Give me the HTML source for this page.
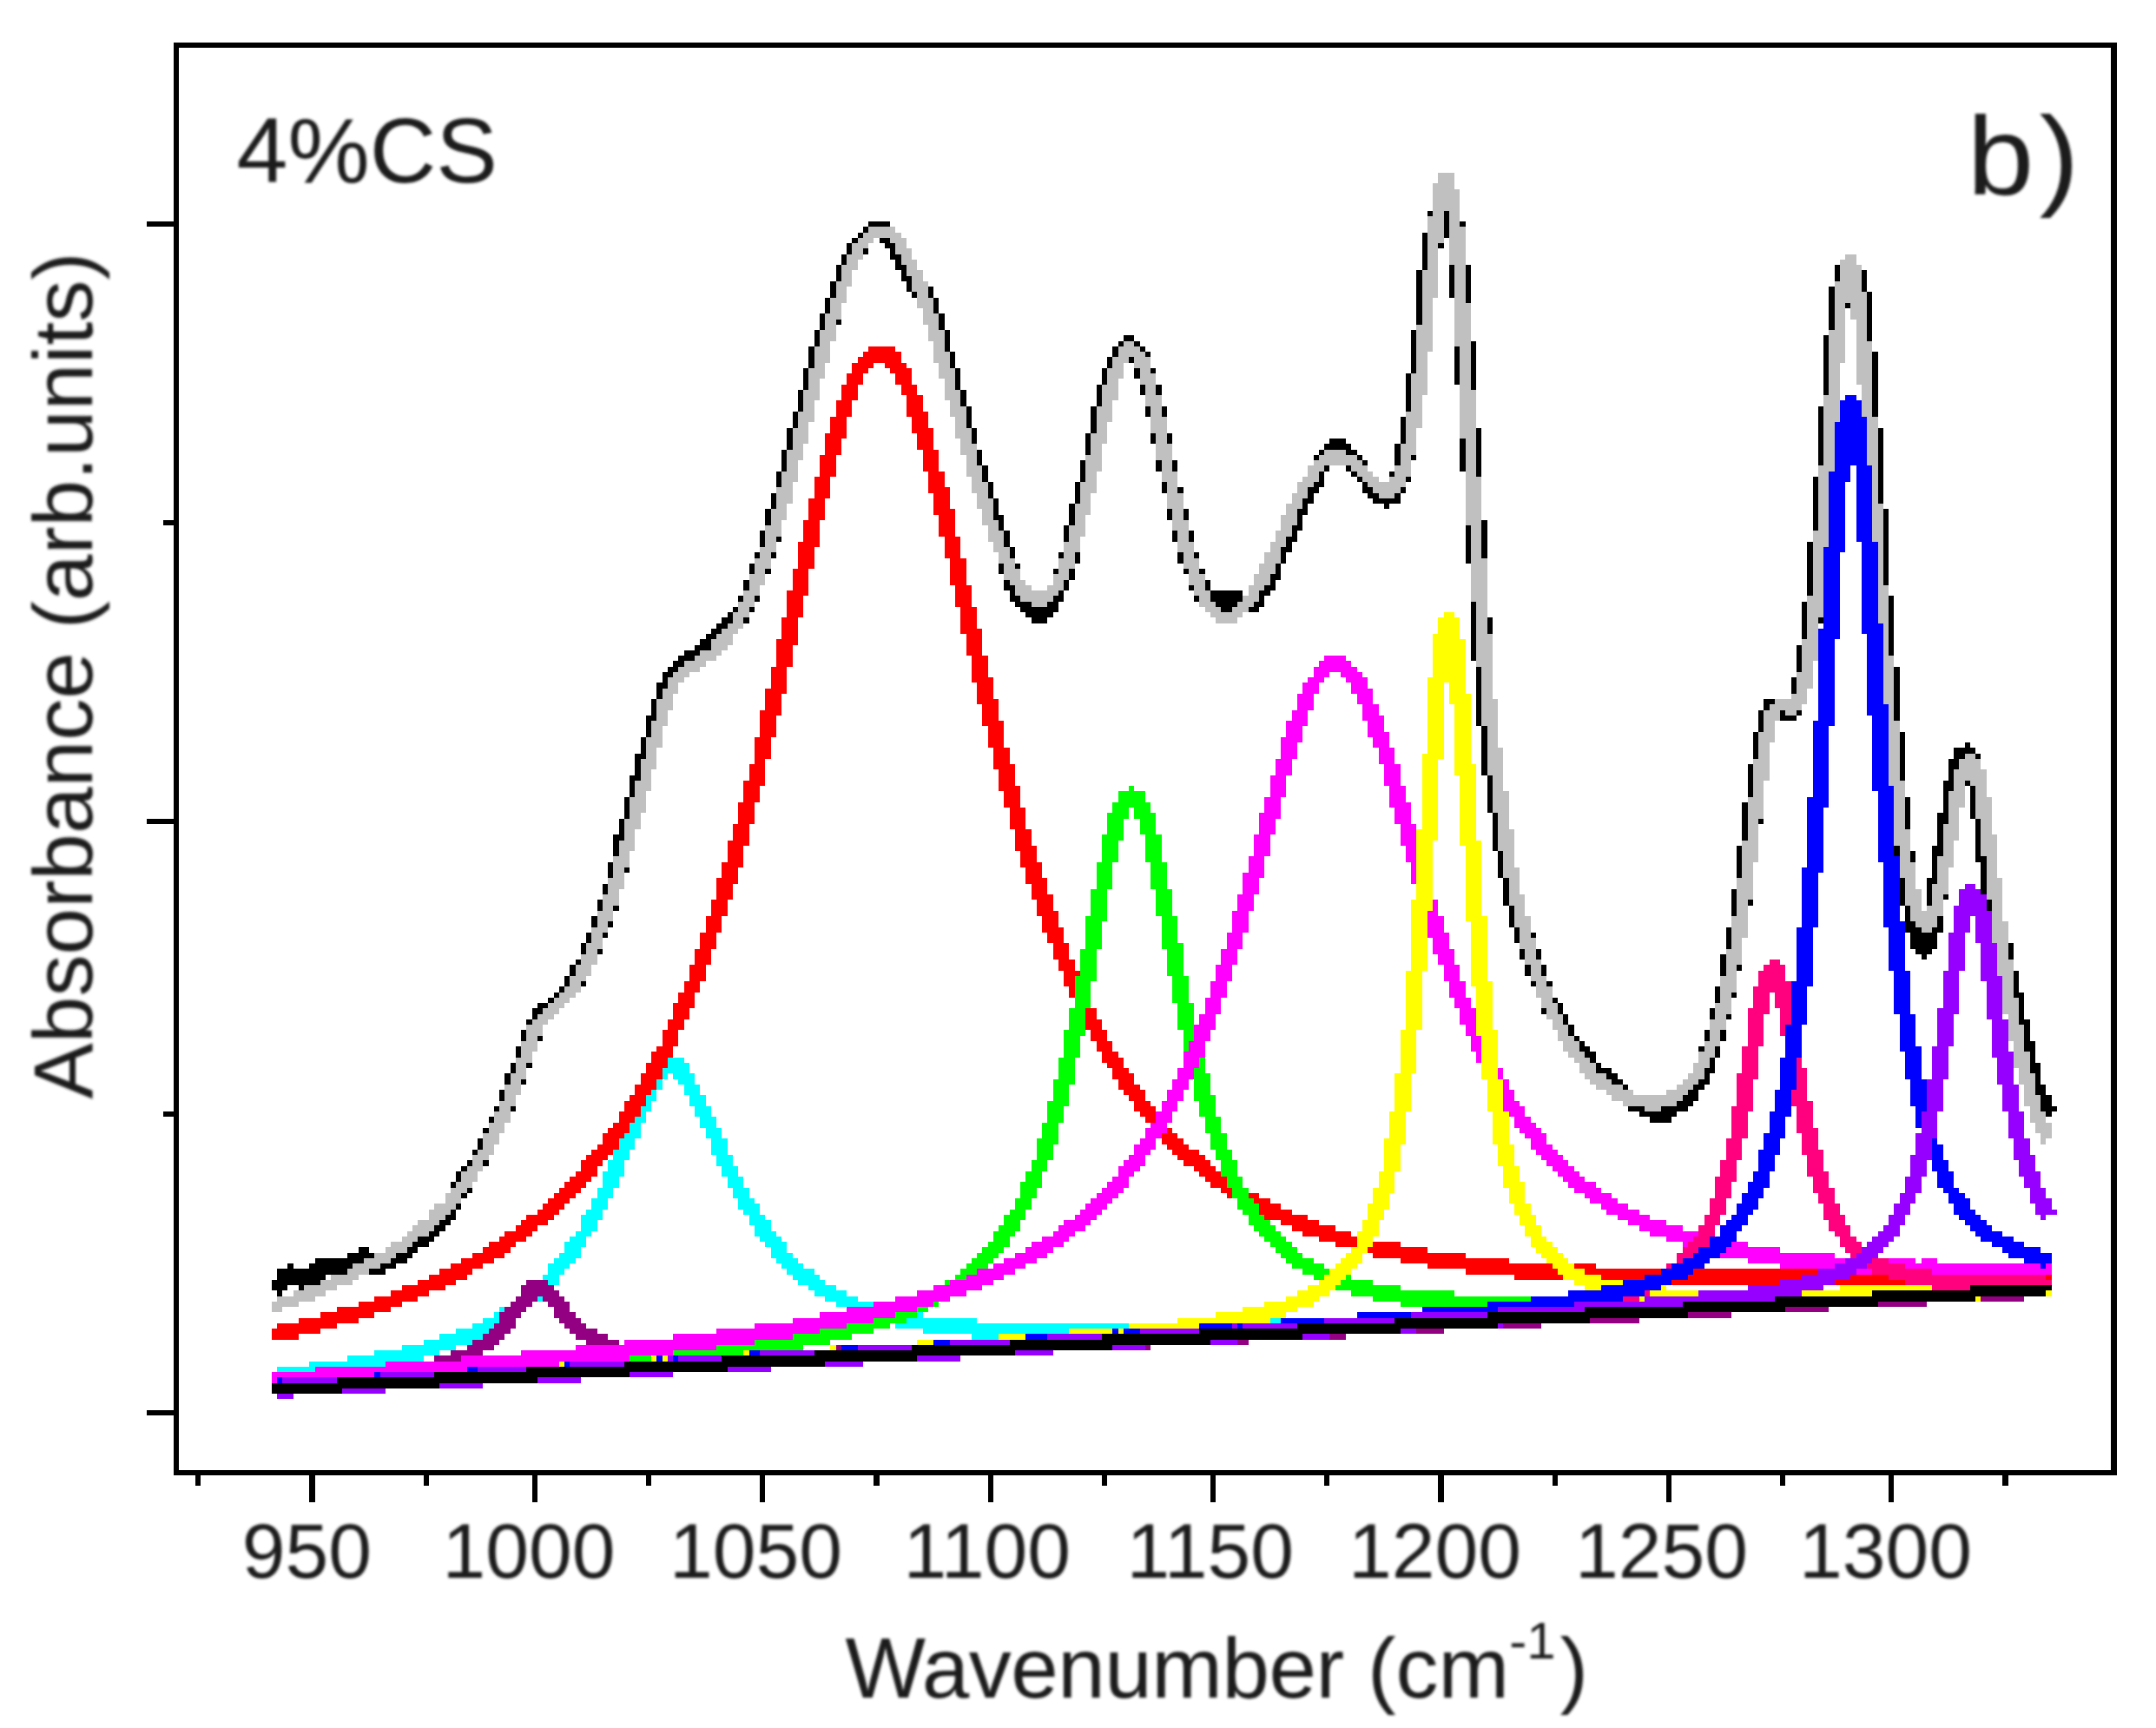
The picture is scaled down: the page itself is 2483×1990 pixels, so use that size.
<!DOCTYPE html>
<html><head><meta charset="utf-8"><title>spectrum</title>
<style>html,body{margin:0;padding:0;background:#fff}svg{display:block}</style></head>
<body>
<svg width="2483" height="1990" viewBox="0 0 2483 1990">
<rect width="2483" height="1990" fill="#fff"/>
<g transform="translate(0,-1.1) scale(6.25)" shape-rendering="crispEdges">
<path fill="#000000" d="M263 39h1v1h-1zM269 41h1v1h-1zM160 41h4v1h-4zM159 42h1v1h-1zM266 39h1v5h-1zM158 43h1v1h-1zM162 44h2v1h-2zM157 44h1v1h-1zM163 45h2v1h-2zM265 45h1v1h-1zM156 45h1v2h-1zM164 46h1v1h-1zM159 46h1v1h-1zM164 47h2v1h-2zM155 47h1v2h-1zM165 48h1v1h-1zM262 43h1v7h-1zM165 49h2v1h-2zM166 50h1v1h-1zM154 49h1v3h-1zM338 49h1v3h-1zM166 51h2v1h-2zM343 50h1v4h-1zM167 52h1v2h-1zM267 49h1v6h-1zM153 52h1v3h-1zM171 53h1v2h-1zM168 54h1v1h-1zM270 49h1v7h-1zM340 56h1v1h-1zM172 55h1v3h-1zM152 55h1v3h-1zM261 50h1v10h-1zM154 59h1v1h-1zM337 53h1v8h-1zM151 58h1v3h-1zM173 58h1v3h-1zM344 54h1v9h-1zM207 62h2v1h-2zM150 61h1v3h-1zM209 63h1v1h-1zM206 63h1v1h-1zM174 61h1v4h-1zM210 64h1v1h-1zM205 64h1v2h-1zM211 65h1v1h-1zM208 66h1v1h-1zM149 64h1v4h-1zM175 65h1v3h-1zM204 66h1v2h-1zM260 61h1v8h-1zM212 68h1v1h-1zM209 68h1v2h-1zM268 64h1v7h-1zM203 68h1v3h-1zM271 63h1v9h-1zM176 68h1v4h-1zM148 68h1v4h-1zM336 62h1v11h-1zM213 71h1v2h-1zM210 71h1v2h-1zM202 71h1v4h-1zM177 72h1v3h-1zM259 69h1v7h-1zM147 72h1v4h-1zM345 65h1v12h-1zM211 75h1v2h-1zM214 75h1v2h-1zM178 75h1v4h-1zM146 76h1v3h-1zM201 75h1v5h-1zM258 77h1v5h-1zM179 79h1v3h-1zM215 80h1v2h-1zM212 80h1v2h-1zM245 81h3v1h-3zM145 79h1v4h-1zM244 82h5v1h-5zM200 80h1v4h-1zM243 83h1v1h-1zM248 83h2v1h-2zM260 84h1v1h-1zM242 84h1v1h-1zM250 84h1v1h-1zM335 75h1v11h-1zM257 82h1v4h-1zM180 83h1v3h-1zM251 85h1v1h-1zM269 81h1v6h-1zM144 83h1v4h-1zM213 85h1v2h-1zM216 85h1v2h-1zM244 86h1v1h-1zM248 86h1v1h-1zM272 79h1v9h-1zM256 87h1v1h-1zM249 87h1v1h-1zM199 85h1v4h-1zM181 86h1v3h-1zM243 87h1v2h-1zM259 88h1v1h-1zM250 88h1v1h-1zM143 87h1v3h-1zM242 89h2v1h-2zM251 89h1v1h-1zM214 89h1v2h-1zM217 90h1v1h-1zM251 90h2v1h-2zM241 90h2v1h-2zM258 90h1v1h-1zM182 89h1v3h-1zM257 91h1v1h-1zM252 91h2v1h-2zM241 91h1v1h-1zM346 79h1v14h-1zM198 89h1v4h-1zM240 92h2v1h-2zM253 92h5v1h-5zM142 91h1v3h-1zM255 93h1v1h-1zM240 93h1v1h-1zM183 92h1v3h-1zM239 94h2v1h-2zM215 94h1v2h-1zM218 94h1v2h-1zM183 95h2v1h-2zM197 93h1v4h-1zM141 94h1v3h-1zM239 95h1v2h-1zM334 88h1v10h-1zM184 96h1v2h-1zM238 97h2v1h-2zM238 98h1v1h-1zM196 97h1v3h-1zM219 98h1v2h-1zM216 98h1v2h-1zM143 99h1v1h-1zM237 99h2v1h-2zM140 98h1v3h-1zM185 98h1v3h-1zM237 100h1v1h-1zM236 101h2v1h-2zM273 96h1v7h-1zM186 101h1v2h-1zM220 102h1v1h-1zM195 102h1v1h-1zM142 102h1v1h-1zM139 102h1v1h-1zM270 97h1v7h-1zM217 102h1v2h-1zM198 102h1v2h-1zM236 102h1v2h-1zM187 104h1v1h-1zM138 104h1v2h-1zM235 104h1v2h-1zM184 104h1v2h-1zM221 105h1v1h-1zM141 105h1v1h-1zM218 105h1v1h-1zM194 105h1v1h-1zM197 105h1v2h-1zM234 106h2v1h-2zM347 94h1v14h-1zM185 107h1v1h-1zM234 107h1v1h-1zM222 107h1v2h-1zM137 107h1v2h-1zM196 107h1v2h-1zM219 108h1v1h-1zM185 108h2v1h-2zM233 108h2v1h-2zM333 100h1v10h-1zM186 109h1v1h-1zM232 109h2v1h-2zM195 109h1v1h-1zM223 109h6v2h-6zM136 110h1v1h-1zM186 110h2v1h-2zM194 110h2v1h-2zM220 110h1v1h-1zM139 110h1v1h-1zM232 110h1v1h-1zM193 111h2v1h-2zM187 111h3v1h-3zM224 111h4v1h-4zM231 111h2v1h-2zM138 112h1v1h-1zM135 112h1v1h-1zM188 112h7v1h-7zM225 112h2v1h-2zM230 112h2v1h-2zM134 113h1v1h-1zM189 113h5v1h-5zM335 114h1v1h-1zM137 114h1v1h-1zM133 114h2v1h-2zM190 114h3v1h-3zM132 115h2v1h-2zM274 114h1v3h-1zM131 116h2v1h-2zM332 111h1v7h-1zM130 117h2v1h-2zM129 118h2v1h-2zM128 119h3v1h-3zM348 110h1v11h-1zM126 120h3v1h-3zM271 111h1v11h-1zM125 121h3v1h-3zM124 122h2v1h-2zM331 119h1v5h-1zM123 123h2v1h-2zM122 124h2v1h-2zM122 125h1v1h-1zM121 126h2v1h-2zM330 125h1v3h-1zM121 127h1v2h-1zM325 129h2v1h-2zM325 130h1v1h-1zM120 129h1v3h-1zM331 131h1v1h-1zM328 131h1v1h-1zM349 123h1v10h-1zM119 132h2v1h-2zM328 132h3v1h-3zM272 123h1v11h-1zM324 131h1v4h-1zM119 133h1v3h-1zM362 137h1v1h-1zM118 136h1v3h-1zM360 138h4v1h-4zM323 135h1v5h-1zM117 139h2v1h-2zM364 139h1v1h-1zM360 139h2v1h-2zM359 140h2v2h-2zM273 134h1v9h-1zM117 140h1v3h-1zM350 135h1v9h-1zM359 142h1v2h-1zM116 143h2v1h-2zM362 144h1v1h-1zM358 144h2v2h-2zM322 141h1v6h-1zM116 144h1v3h-1zM274 143h1v7h-1zM358 146h1v4h-1zM363 145h1v6h-1zM115 147h1v4h-1zM357 150h2v2h-2zM324 151h1v1h-1zM351 147h1v6h-1zM114 151h1v3h-1zM321 148h1v7h-1zM113 154h2v1h-2zM357 152h1v4h-1zM275 150h1v7h-1zM364 151h1v7h-1zM113 155h1v3h-1zM356 156h2v2h-2zM349 156h1v2h-1zM352 157h1v2h-1zM364 158h2v1h-2zM115 160h1v1h-1zM320 156h1v6h-1zM276 157h1v5h-1zM356 158h1v4h-1zM112 159h1v3h-1zM355 162h2v1h-2zM365 159h1v6h-1zM111 163h1v2h-1zM358 165h1v1h-1zM350 162h1v5h-1zM277 162h1v5h-1zM355 163h1v4h-1zM322 166h1v1h-1zM110 166h1v2h-1zM366 166h1v2h-1zM113 167h1v1h-1zM319 164h1v5h-1zM351 167h1v3h-1zM278 167h1v4h-1zM109 169h1v2h-1zM357 169h1v2h-1zM112 170h1v1h-1zM351 170h2v1h-2zM351 171h3v1h-3zM356 171h2v1h-2zM111 172h1v1h-1zM282 172h1v1h-1zM279 171h1v3h-1zM108 172h1v2h-1zM318 171h1v4h-1zM352 172h5v3h-5zM107 174h1v2h-1zM110 175h1v1h-1zM353 175h3v1h-3zM370 174h1v3h-1zM283 175h1v2h-1zM280 175h1v2h-1zM354 176h1v1h-1zM106 177h1v1h-1zM320 178h1v1h-1zM317 176h1v4h-1zM105 178h1v2h-1zM284 178h1v2h-1zM281 178h1v2h-1zM104 180h1v2h-1zM282 181h1v1h-1zM285 181h1v1h-1zM107 181h1v1h-1zM371 179h1v4h-1zM103 182h1v1h-1zM319 183h1v1h-1zM102 183h1v1h-1zM371 183h2v1h-2zM316 182h1v3h-1zM101 184h1v1h-1zM286 184h1v1h-1zM99 185h2v1h-2zM287 185h1v2h-1zM98 186h2v1h-2zM284 186h1v1h-1zM372 184h1v4h-1zM315 186h1v2h-1zM98 187h1v1h-1zM318 187h1v1h-1zM288 187h1v2h-1zM372 188h2v1h-2zM97 188h1v1h-1zM289 189h1v2h-1zM373 189h1v3h-1zM317 190h1v2h-1zM314 190h1v2h-1zM96 190h1v2h-1zM290 191h1v1h-1zM99 191h1v1h-1zM291 192h1v1h-1zM373 192h2v2h-2zM291 193h2v1h-2zM313 193h1v1h-1zM95 193h1v2h-1zM316 193h1v2h-1zM292 194h2v1h-2zM374 194h1v2h-1zM293 195h1v1h-1zM315 195h1v2h-1zM294 196h1v1h-1zM97 196h1v1h-1zM374 196h2v2h-2zM94 196h1v2h-1zM314 197h2v1h-2zM294 197h3v1h-3zM314 198h1v1h-1zM296 198h2v1h-2zM93 198h1v2h-1zM375 198h1v2h-1zM313 199h2v1h-2zM96 199h1v1h-1zM297 199h2v1h-2zM299 200h1v1h-1zM312 200h2v1h-2zM375 200h2v2h-2zM311 201h2v1h-2zM92 201h1v2h-1zM310 202h3v1h-3zM376 202h2v2h-2zM309 203h3v1h-3zM376 204h3v1h-3zM94 204h1v1h-1zM300 204h3v1h-3zM306 204h5v1h-5zM91 204h1v1h-1zM377 205h1v1h-1zM302 205h7v1h-7zM90 206h1v1h-1zM304 206h4v1h-4zM89 208h1v1h-1zM88 210h1v2h-1zM87 212h1v1h-1zM89 214h1v1h-1zM86 214h1v1h-1zM85 215h1v1h-1zM84 216h1v2h-1zM83 218h1v1h-1zM86 219h1v1h-1zM85 220h1v1h-1zM84 222h1v1h-1zM83 223h1v1h-1zM82 224h2v1h-2zM81 225h2v1h-2zM80 226h2v1h-2zM79 227h2v1h-2zM77 228h3v1h-3zM76 229h3v1h-3zM66 230h2v1h-2zM75 230h2v1h-2zM73 231h3v1h-3zM64 231h5v1h-5zM58 232h9v1h-9zM72 232h3v1h-3zM57 233h8v1h-8zM70 233h3v1h-3zM53 233h1v1h-1zM68 234h3v1h-3zM51 234h13v1h-13zM51 235h9v1h-9zM50 236h9v1h-9zM50 237h3v1h-3zM55 237h1v1h-1zM51 238h1v1h-1z"/>
<path fill="#c0c0c0" d="M265 32h3v2h-3zM264 34h4v1h-4zM264 35h5v4h-5zM264 39h2v1h-2zM267 39h2v3h-2zM160 42h5v1h-5zM159 43h7v1h-7zM263 40h3v5h-3zM158 44h3v1h-3zM164 44h3v1h-3zM157 45h3v1h-3zM165 45h2v1h-2zM165 46h3v1h-3zM157 46h2v1h-2zM166 47h2v1h-2zM156 47h3v1h-3zM340 47h2v1h-2zM267 42h3v7h-3zM339 48h3v1h-3zM156 48h2v1h-2zM166 48h3v1h-3zM263 45h2v5h-2zM155 49h3v1h-3zM167 49h2v1h-2zM167 50h3v1h-3zM339 49h4v3h-4zM155 50h2v2h-2zM168 51h2v1h-2zM154 52h3v1h-3zM168 52h3v2h-3zM338 52h5v2h-5zM262 50h3v5h-3zM154 53h2v2h-2zM169 54h2v1h-2zM268 49h2v7h-2zM338 54h6v2h-6zM153 55h3v1h-3zM169 55h3v2h-3zM153 56h2v2h-2zM170 57h2v1h-2zM341 56h3v3h-3zM152 58h3v1h-3zM262 55h2v5h-2zM170 58h3v2h-3zM338 56h2v5h-2zM152 59h2v2h-2zM171 60h2v1h-2zM342 59h2v4h-2zM171 61h3v2h-3zM151 61h3v2h-3zM268 56h3v8h-3zM207 63h2v1h-2zM151 63h2v1h-2zM261 60h3v5h-3zM172 63h2v2h-2zM206 64h4v1h-4zM206 65h5v1h-5zM337 61h3v6h-3zM150 64h3v3h-3zM172 65h3v2h-3zM205 66h3v1h-3zM209 66h3v2h-3zM150 67h2v1h-2zM173 67h2v1h-2zM205 67h2v1h-2zM261 65h2v4h-2zM210 68h2v1h-2zM204 68h3v2h-3zM173 68h3v2h-3zM149 68h3v2h-3zM342 63h3v8h-3zM210 69h3v2h-3zM204 70h2v1h-2zM269 64h2v8h-2zM149 70h2v2h-2zM174 70h2v2h-2zM337 67h2v6h-2zM260 69h3v4h-3zM211 71h2v2h-2zM203 71h3v3h-3zM174 72h3v2h-3zM148 72h3v2h-3zM211 73h3v2h-3zM175 74h2v1h-2zM203 74h2v1h-2zM260 73h2v3h-2zM148 74h2v2h-2zM343 71h2v6h-2zM175 75h3v2h-3zM212 75h2v2h-2zM336 73h3v5h-3zM202 75h3v3h-3zM147 76h3v2h-3zM259 76h3v3h-3zM176 77h2v2h-2zM147 78h2v1h-2zM212 77h3v3h-3zM202 78h2v2h-2zM269 72h3v9h-3zM176 79h3v2h-3zM259 79h2v3h-2zM146 79h3v3h-3zM213 80h2v2h-2zM201 80h3v2h-3zM177 81h2v1h-2zM146 82h2v1h-2zM201 82h2v2h-2zM258 82h3v2h-3zM177 82h3v2h-3zM244 83h4v1h-4zM213 82h3v3h-3zM145 83h3v2h-3zM243 84h7v1h-7zM344 77h2v9h-2zM336 78h2v8h-2zM258 84h2v2h-2zM178 84h2v2h-2zM242 85h9v1h-9zM200 84h3v3h-3zM214 85h2v2h-2zM145 85h2v2h-2zM249 86h3v1h-3zM241 86h3v1h-3zM335 86h3v1h-3zM270 81h2v7h-2zM178 86h3v2h-3zM257 86h3v2h-3zM250 87h3v1h-3zM241 87h2v1h-2zM214 87h3v2h-3zM200 87h2v2h-2zM144 87h3v2h-3zM256 88h3v1h-3zM240 88h3v1h-3zM251 88h3v1h-3zM179 88h2v1h-2zM252 89h7v1h-7zM239 89h3v1h-3zM144 89h2v1h-2zM199 89h3v2h-3zM179 89h3v2h-3zM215 89h2v2h-2zM239 90h2v1h-2zM253 90h5v1h-5zM238 91h3v1h-3zM254 91h3v1h-3zM180 91h2v1h-2zM345 86h1v7h-1zM143 90h3v3h-3zM199 91h2v2h-2zM238 92h2v1h-2zM215 91h3v3h-3zM180 92h3v2h-3zM143 93h2v1h-2zM237 93h3v1h-3zM198 93h3v2h-3zM237 94h2v1h-2zM142 94h3v2h-3zM216 94h2v2h-2zM181 94h2v2h-2zM270 88h3v9h-3zM198 95h2v2h-2zM236 95h3v2h-3zM142 96h2v1h-2zM181 96h3v1h-3zM335 87h2v11h-2zM216 96h3v2h-3zM182 97h2v1h-2zM236 97h2v1h-2zM197 97h3v2h-3zM141 97h3v2h-3zM235 98h3v1h-3zM345 93h2v7h-2zM182 98h3v2h-3zM217 98h2v2h-2zM197 99h2v1h-2zM235 99h2v1h-2zM334 98h3v3h-3zM141 99h2v2h-2zM234 100h3v1h-3zM183 100h2v1h-2zM196 100h3v2h-3zM217 100h3v2h-3zM183 101h3v1h-3zM234 101h2v1h-2zM140 101h3v1h-3zM271 97h2v6h-2zM218 102h2v1h-2zM184 102h2v1h-2zM140 102h2v1h-2zM196 102h2v1h-2zM233 102h3v2h-3zM184 103h3v1h-3zM139 103h3v2h-3zM218 103h3v2h-3zM195 103h3v2h-3zM185 104h2v1h-2zM232 104h3v2h-3zM195 105h2v1h-2zM139 105h2v1h-2zM219 105h2v1h-2zM185 105h3v2h-3zM194 106h3v1h-3zM346 100h1v8h-1zM138 106h3v2h-3zM219 106h3v2h-3zM231 106h3v2h-3zM194 107h2v1h-2zM186 107h3v1h-3zM187 108h3v1h-3zM220 108h2v1h-2zM193 108h3v1h-3zM230 108h3v1h-3zM138 108h2v1h-2zM334 101h2v9h-2zM187 109h8v1h-8zM137 109h3v1h-3zM220 109h3v1h-3zM230 109h2v1h-2zM271 103h3v8h-3zM137 110h2v1h-2zM188 110h6v1h-6zM229 110h3v1h-3zM221 110h2v1h-2zM136 111h3v1h-3zM190 111h3v1h-3zM228 111h3v1h-3zM221 111h3v1h-3zM222 112h3v1h-3zM136 112h2v1h-2zM227 112h3v1h-3zM333 110h3v4h-3zM223 113h6v1h-6zM135 113h3v1h-3zM346 108h2v7h-2zM135 114h2v1h-2zM224 114h4v1h-4zM134 115h3v1h-3zM272 111h2v6h-2zM133 116h3v1h-3zM333 114h2v4h-2zM132 117h3v1h-3zM131 118h4v1h-4zM131 119h3v1h-3zM347 115h1v6h-1zM129 120h4v1h-4zM332 118h3v4h-3zM128 121h4v1h-4zM272 117h3v6h-3zM126 122h4v1h-4zM332 122h2v2h-2zM125 123h4v1h-4zM124 124h3v1h-3zM123 125h3v1h-3zM331 124h3v3h-3zM123 126h2v1h-2zM122 127h3v1h-3zM331 127h2v1h-2zM273 123h2v6h-2zM330 128h3v1h-3zM122 128h2v1h-2zM347 121h2v9h-2zM327 129h6v1h-6zM121 129h3v2h-3zM326 130h6v1h-6zM329 131h2v1h-2zM348 130h1v3h-1zM121 131h2v2h-2zM325 131h3v2h-3zM273 129h3v5h-3zM120 133h3v1h-3zM325 133h2v2h-2zM120 134h2v2h-2zM324 135h3v2h-3zM274 134h2v4h-2zM119 136h3v2h-3zM324 137h2v3h-2zM119 138h2v2h-2zM362 139h2v1h-2zM361 140h4v2h-4zM118 140h3v2h-3zM274 138h3v5h-3zM348 133h2v11h-2zM323 140h3v4h-3zM118 142h2v2h-2zM360 142h6v2h-6zM348 144h3v1h-3zM363 144h3v1h-3zM275 143h2v3h-2zM117 144h3v2h-3zM360 144h2v2h-2zM323 144h2v3h-2zM364 145h2v2h-2zM117 146h2v1h-2zM359 146h3v3h-3zM275 146h3v4h-3zM116 147h3v3h-3zM322 147h3v4h-3zM364 147h3v4h-3zM116 150h2v1h-2zM359 149h2v3h-2zM349 145h2v8h-2zM276 150h2v3h-2zM115 151h3v2h-3zM365 151h2v3h-2zM322 151h2v4h-2zM358 152h3v3h-3zM115 153h2v2h-2zM349 153h3v3h-3zM276 153h3v4h-3zM114 155h3v2h-3zM365 154h3v4h-3zM358 155h2v3h-2zM114 157h2v1h-2zM321 155h3v4h-3zM350 156h2v3h-2zM277 157h2v3h-2zM113 158h3v2h-3zM357 158h3v2h-3zM366 158h2v4h-2zM321 159h2v3h-2zM350 159h3v3h-3zM113 160h2v2h-2zM277 160h3v2h-3zM357 160h2v3h-2zM351 162h2v2h-2zM112 162h3v2h-3zM278 162h2v3h-2zM356 163h3v2h-3zM112 164h2v1h-2zM320 162h3v4h-3zM366 162h3v4h-3zM351 164h3v3h-3zM278 165h3v2h-3zM356 165h2v2h-2zM111 165h3v2h-3zM352 167h2v1h-2zM111 167h2v1h-2zM355 167h3v1h-3zM320 166h2v3h-2zM279 167h2v2h-2zM352 168h6v1h-6zM367 166h2v4h-2zM110 168h3v2h-3zM352 169h5v1h-5zM279 169h3v2h-3zM353 170h4v1h-4zM110 170h2v1h-2zM109 171h3v1h-3zM354 171h2v1h-2zM319 169h3v4h-3zM280 171h2v2h-2zM367 170h3v4h-3zM109 172h2v2h-2zM280 173h3v2h-3zM319 173h2v2h-2zM108 174h3v1h-3zM108 175h2v1h-2zM368 174h2v3h-2zM281 175h2v2h-2zM318 175h3v3h-3zM107 176h3v2h-3zM281 177h3v1h-3zM368 177h3v3h-3zM106 178h3v2h-3zM282 178h2v2h-2zM318 178h2v2h-2zM282 180h3v1h-3zM105 180h3v1h-3zM105 181h2v1h-2zM283 181h2v1h-2zM317 180h3v3h-3zM104 182h3v1h-3zM369 180h2v4h-2zM283 182h3v2h-3zM103 183h3v1h-3zM317 183h2v2h-2zM102 184h3v1h-3zM284 184h2v1h-2zM101 185h3v1h-3zM284 185h3v1h-3zM369 184h3v3h-3zM316 185h3v2h-3zM100 186h3v1h-3zM285 186h2v1h-2zM99 187h3v1h-3zM316 187h2v1h-2zM285 187h3v1h-3zM370 187h2v2h-2zM286 188h2v1h-2zM98 188h3v1h-3zM315 188h3v2h-3zM286 189h3v1h-3zM97 189h3v2h-3zM287 190h2v1h-2zM370 189h3v3h-3zM315 190h2v2h-2zM97 191h2v1h-2zM287 191h3v1h-3zM314 192h3v1h-3zM288 192h3v2h-3zM96 192h3v2h-3zM371 192h2v2h-2zM314 193h2v1h-2zM289 194h3v1h-3zM313 194h3v1h-3zM96 194h2v1h-2zM313 195h2v1h-2zM95 195h3v1h-3zM290 195h3v1h-3zM371 194h3v3h-3zM312 196h3v1h-3zM95 196h2v2h-2zM291 196h3v2h-3zM372 197h2v1h-2zM312 197h2v1h-2zM292 198h4v1h-4zM311 198h3v1h-3zM94 198h3v1h-3zM372 198h3v2h-3zM310 199h3v1h-3zM293 199h4v1h-4zM94 199h2v1h-2zM294 200h5v1h-5zM309 200h3v1h-3zM93 200h3v2h-3zM373 200h2v2h-2zM307 201h4v1h-4zM296 201h5v1h-5zM297 202h13v1h-13zM93 202h2v1h-2zM373 202h3v2h-3zM92 203h3v1h-3zM299 203h10v1h-10zM374 204h2v1h-2zM92 204h2v1h-2zM303 204h3v1h-3zM91 205h3v2h-3zM374 205h3v2h-3zM375 207h3v2h-3zM90 207h3v2h-3zM376 209h2v1h-2zM89 209h3v2h-3zM376 210h1v1h-1zM89 211h2v1h-2zM88 212h3v1h-3zM87 213h3v1h-3zM87 214h2v1h-2zM86 215h3v1h-3zM85 216h3v2h-3zM84 218h3v1h-3zM83 219h3v1h-3zM82 220h3v2h-3zM80 222h4v1h-4zM79 223h4v1h-4zM79 224h3v1h-3zM77 225h4v1h-4zM76 226h4v1h-4zM75 227h4v1h-4zM74 228h3v1h-3zM72 229h4v1h-4zM71 230h4v1h-4zM69 231h4v1h-4zM67 232h5v1h-5zM65 233h5v1h-5zM64 234h4v1h-4zM61 235h5v1h-5zM59 236h6v1h-6zM56 237h6v1h-6zM54 238h6v1h-6zM51 239h7v1h-7zM50 240h5v1h-5zM50 241h2v1h-2z"/>
<path fill="#00ffff" d="M123 195h3v1h-3zM123 196h4v1h-4zM122 197h5v1h-5zM124 198h4v1h-4zM122 198h1v1h-1zM125 199h3v1h-3zM121 199h1v2h-1zM126 200h3v2h-3zM120 201h1v1h-1zM119 202h2v1h-2zM127 202h3v2h-3zM119 203h1v1h-1zM118 204h2v1h-2zM128 204h3v2h-3zM118 205h1v1h-1zM117 206h2v1h-2zM129 206h3v2h-3zM116 207h2v2h-2zM130 208h3v2h-3zM115 209h3v1h-3zM114 210h3v2h-3zM131 210h3v3h-3zM113 212h3v2h-3zM132 213h3v2h-3zM112 214h3v2h-3zM133 215h3v2h-3zM111 216h4v1h-4zM134 217h3v2h-3zM111 217h3v2h-3zM135 219h3v2h-3zM110 219h3v2h-3zM136 221h3v1h-3zM109 221h3v2h-3zM136 222h4v1h-4zM137 223h3v1h-3zM108 223h3v1h-3zM138 224h3v1h-3zM107 224h4v1h-4zM138 225h4v1h-4zM107 225h3v2h-3zM139 226h3v1h-3zM106 227h3v1h-3zM139 227h4v1h-4zM105 228h3v1h-3zM140 228h4v1h-4zM104 229h4v1h-4zM141 229h4v1h-4zM142 230h3v1h-3zM104 230h3v1h-3zM142 231h4v1h-4zM103 231h4v1h-4zM102 232h4v1h-4zM143 232h4v1h-4zM144 233h4v1h-4zM101 233h4v1h-4zM101 234h3v1h-3zM145 234h5v1h-5zM100 235h3v1h-3zM146 235h5v1h-5zM101 236h2v1h-2zM147 236h5v1h-5zM149 237h5v1h-5zM150 238h6v1h-6zM99 239h1v1h-1zM152 239h6v1h-6zM154 240h7v1h-7zM92 241h1v1h-1zM169 242h1v1h-1zM91 242h1v1h-1zM234 243h2v1h-2zM167 243h13v1h-13zM89 243h3v1h-3zM87 244h4v1h-4zM165 244h43v1h-43zM170 245h27v1h-27zM84 245h6v1h-6zM81 246h8v1h-8zM179 246h5v1h-5zM78 247h9v1h-9zM74 248h10v1h-10zM69 249h12v1h-12zM64 250h14v1h-14zM57 251h14v1h-14zM51 252h7v1h-7z"/>
<path fill="#940082" d="M97 236h4v1h-4zM96 237h6v1h-6zM96 238h7v1h-7zM100 239h4v1h-4zM95 239h4v1h-4zM365 239h8v1h-8zM346 240h9v1h-9zM101 240h4v1h-4zM94 240h4v1h-4zM102 241h3v1h-3zM93 241h4v1h-4zM329 241h8v1h-8zM311 242h8v1h-8zM102 242h4v1h-4zM92 242h4v1h-4zM293 243h9v1h-9zM92 243h3v1h-3zM103 243h4v1h-4zM91 244h4v1h-4zM277 244h7v1h-7zM104 244h4v1h-4zM105 245h5v1h-5zM261 245h5v1h-5zM90 245h4v1h-4zM89 246h4v1h-4zM245 246h3v1h-3zM106 246h6v1h-6zM87 247h5v1h-5zM228 247h2v1h-2zM108 247h6v1h-6zM154 248h1v1h-1zM86 248h5v1h-5zM211 248h1v1h-1zM83 249h6v1h-6zM80 250h5v1h-5z"/>
<path fill="#ff0000" d="M160 64h5v1h-5zM159 65h7v1h-7zM158 66h8v1h-8zM157 67h4v1h-4zM163 67h4v1h-4zM157 68h3v1h-3zM164 68h4v1h-4zM165 69h3v2h-3zM156 69h3v2h-3zM166 71h3v2h-3zM155 71h3v3h-3zM167 73h3v3h-3zM154 74h3v3h-3zM167 76h4v1h-4zM168 77h3v2h-3zM153 77h3v3h-3zM168 79h4v1h-4zM152 80h4v1h-4zM169 80h3v3h-3zM152 81h3v3h-3zM170 83h3v4h-3zM151 84h3v4h-3zM171 87h3v3h-3zM171 90h4v1h-4zM150 88h3v4h-3zM172 91h3v3h-3zM172 94h4v1h-4zM149 92h3v4h-3zM173 95h3v4h-3zM148 96h3v4h-3zM147 100h4v1h-4zM174 99h3v4h-3zM147 101h3v4h-3zM175 103h3v5h-3zM146 105h3v4h-3zM145 109h4v1h-4zM176 108h3v4h-3zM145 110h3v4h-3zM177 112h3v4h-3zM177 116h4v1h-4zM144 114h3v4h-3zM143 118h4v1h-4zM178 117h3v4h-3zM143 119h3v4h-3zM179 121h3v4h-3zM179 125h4v1h-4zM142 123h3v4h-3zM141 127h4v1h-4zM180 126h3v3h-3zM180 129h4v1h-4zM141 128h3v3h-3zM140 131h4v1h-4zM181 130h3v3h-3zM181 133h4v1h-4zM140 132h3v4h-3zM182 134h3v4h-3zM139 136h3v4h-3zM183 138h3v3h-3zM139 140h2v1h-2zM183 141h4v1h-4zM138 141h3v3h-3zM184 142h3v3h-3zM137 144h4v1h-4zM184 145h4v1h-4zM137 145h3v3h-3zM185 146h3v3h-3zM136 148h3v4h-3zM186 149h3v4h-3zM135 152h3v3h-3zM187 153h3v3h-3zM134 155h4v1h-4zM187 156h4v1h-4zM134 156h3v3h-3zM188 157h3v2h-3zM133 159h4v1h-4zM188 159h4v1h-4zM133 160h3v2h-3zM189 160h3v2h-3zM189 162h4v1h-4zM132 162h4v1h-4zM190 163h3v2h-3zM132 163h3v3h-3zM190 165h4v1h-4zM191 166h3v2h-3zM131 166h3v3h-3zM191 168h4v1h-4zM192 169h3v2h-3zM130 169h3v3h-3zM192 171h4v1h-4zM193 172h3v2h-3zM129 172h3v3h-3zM194 174h3v3h-3zM128 175h3v3h-3zM195 177h3v2h-3zM196 179h3v1h-3zM127 178h3v3h-3zM196 180h2v2h-2zM126 181h3v2h-3zM197 182h1v2h-1zM125 183h3v2h-3zM124 185h4v1h-4zM124 186h3v2h-3zM200 186h2v2h-2zM123 188h3v2h-3zM200 188h3v2h-3zM201 190h3v2h-3zM122 190h3v3h-3zM202 192h3v2h-3zM121 193h3v1h-3zM120 194h4v1h-4zM203 194h3v1h-3zM203 195h4v1h-4zM120 195h3v1h-3zM119 196h4v1h-4zM204 196h3v1h-3zM119 197h3v1h-3zM205 197h3v1h-3zM205 198h4v1h-4zM118 198h4v1h-4zM118 199h3v1h-3zM206 199h3v1h-3zM117 200h4v1h-4zM206 200h4v1h-4zM117 201h3v1h-3zM207 201h4v1h-4zM208 202h3v1h-3zM116 202h3v1h-3zM115 203h4v1h-4zM209 203h3v1h-3zM115 204h3v1h-3zM209 204h4v1h-4zM210 205h3v1h-3zM114 205h4v1h-4zM211 206h2v1h-2zM114 206h3v1h-3zM113 207h3v1h-3zM215 208h1v1h-1zM112 208h4v1h-4zM214 209h3v1h-3zM111 209h4v1h-4zM214 210h4v1h-4zM111 210h3v1h-3zM110 211h4v1h-4zM215 211h4v1h-4zM109 212h4v1h-4zM216 212h5v1h-5zM217 213h5v1h-5zM108 213h4v1h-4zM218 214h5v1h-5zM107 214h4v1h-4zM220 215h4v1h-4zM107 215h3v1h-3zM221 216h4v1h-4zM106 216h4v1h-4zM222 217h4v1h-4zM105 217h4v1h-4zM223 218h3v1h-3zM104 218h4v1h-4zM225 219h2v1h-2zM103 219h4v1h-4zM102 220h4v1h-4zM226 220h1v1h-1zM230 220h2v1h-2zM231 221h3v1h-3zM101 221h4v1h-4zM100 222h4v1h-4zM232 222h4v1h-4zM232 223h6v1h-6zM99 223h4v1h-4zM233 224h8v1h-8zM97 224h5v1h-5zM96 225h5v1h-5zM236 225h7v1h-7zM238 226h8v1h-8zM95 226h4v1h-4zM240 227h9v1h-9zM93 227h5v1h-5zM92 228h5v1h-5zM243 228h7v1h-7zM253 229h5v1h-5zM90 229h5v1h-5zM246 229h4v1h-4zM89 230h5v1h-5zM252 230h11v1h-11zM253 231h17v1h-17zM87 231h6v1h-6zM258 232h20v1h-20zM85 232h6v1h-6zM83 233h6v1h-6zM263 233h23v1h-23zM290 233h4v1h-4zM81 234h6v1h-6zM270 234h17v1h-17zM312 234h23v1h-23zM292 234h14v1h-14zM341 235h7v1h-7zM311 235h21v1h-21zM279 235h9v1h-9zM79 235h7v1h-7zM295 235h8v1h-8zM377 235h1v1h-1zM77 236h7v1h-7zM308 236h20v1h-20zM338 236h13v1h-13zM74 237h8v1h-8zM72 238h7v1h-7zM69 239h8v1h-8zM66 240h8v1h-8zM62 241h10v1h-10zM59 242h10v1h-10zM55 243h11v1h-11zM51 244h11v1h-11zM50 245h9v1h-9zM50 246h5v1h-5z"/>
<path fill="#00ff00" d="M208 145h1v1h-1zM206 146h5v2h-5zM205 148h7v1h-7zM205 149h3v1h-3zM209 149h3v1h-3zM209 150h4v1h-4zM204 150h4v1h-4zM210 151h3v3h-3zM204 151h3v3h-3zM203 154h4v1h-4zM211 154h3v5h-3zM203 155h3v4h-3zM212 159h3v5h-3zM202 159h3v5h-3zM201 164h3v5h-3zM213 164h3v5h-3zM200 169h4v1h-4zM214 169h3v5h-3zM200 170h3v5h-3zM214 174h4v1h-4zM199 175h3v5h-3zM215 175h3v5h-3zM198 180h4v1h-4zM216 180h3v5h-3zM198 181h3v5h-3zM217 185h3v5h-3zM197 186h3v4h-3zM196 190h4v1h-4zM218 190h2v2h-2zM218 192h1v2h-1zM196 191h3v4h-3zM221 195h1v2h-1zM220 197h2v1h-2zM195 195h3v4h-3zM194 199h4v1h-4zM220 198h3v4h-3zM194 200h3v3h-3zM220 202h4v1h-4zM193 203h4v1h-4zM221 203h3v3h-3zM193 204h3v3h-3zM222 206h3v3h-3zM192 207h3v3h-3zM191 210h4v1h-4zM223 209h3v3h-3zM191 211h3v3h-3zM224 212h3v2h-3zM190 214h3v2h-3zM225 214h3v3h-3zM189 216h3v2h-3zM226 217h3v2h-3zM188 218h4v1h-4zM188 219h3v2h-3zM227 219h3v2h-3zM228 221h3v1h-3zM187 221h3v2h-3zM228 222h4v1h-4zM229 223h3v1h-3zM186 223h3v1h-3zM230 224h3v1h-3zM185 224h4v1h-4zM230 225h4v1h-4zM185 225h3v1h-3zM184 226h4v1h-4zM231 226h4v1h-4zM232 227h4v1h-4zM183 227h4v1h-4zM183 228h3v1h-3zM233 228h4v1h-4zM234 229h4v1h-4zM182 229h4v1h-4zM181 230h4v1h-4zM235 230h4v1h-4zM236 231h4v1h-4zM180 231h4v1h-4zM237 232h5v1h-5zM179 232h4v1h-4zM178 233h4v1h-4zM238 233h6v1h-6zM177 234h3v1h-3zM240 234h5v1h-5zM242 235h2v1h-2zM248 235h1v1h-1zM176 235h2v1h-2zM247 236h6v1h-6zM174 236h1v1h-1zM246 237h12v1h-12zM249 238h19v1h-19zM253 239h29v1h-29zM258 240h16v1h-16zM172 240h1v1h-1zM169 241h2v1h-2zM165 242h4v1h-4zM161 243h6v1h-6zM156 244h8v1h-8zM151 245h10v1h-10zM146 246h11v1h-11zM139 247h14v1h-14zM132 248h16v1h-16zM124 249h13v1h-13zM116 250h4v1h-4z"/>
<path fill="#ff00ff" d="M244 121h4v1h-4zM243 122h6v1h-6zM242 123h8v1h-8zM242 124h3v1h-3zM247 124h4v1h-4zM241 125h3v1h-3zM248 125h4v1h-4zM249 126h3v1h-3zM240 126h3v2h-3zM249 127h4v1h-4zM250 128h3v2h-3zM239 128h3v3h-3zM251 130h3v2h-3zM238 131h3v2h-3zM251 132h4v1h-4zM237 133h4v1h-4zM252 133h3v2h-3zM237 134h3v2h-3zM252 135h4v1h-4zM236 136h4v1h-4zM253 136h3v2h-3zM236 137h3v3h-3zM254 138h3v3h-3zM235 140h3v3h-3zM255 141h3v4h-3zM234 143h3v4h-3zM256 145h3v3h-3zM256 148h4v1h-4zM233 147h3v3h-3zM232 150h4v1h-4zM257 149h3v3h-3zM232 151h3v3h-3zM258 152h3v4h-3zM231 154h3v4h-3zM259 156h2v3h-2zM230 158h3v3h-3zM229 161h4v1h-4zM260 159h1v4h-1zM229 162h3v3h-3zM228 165h3v3h-3zM264 166h1v2h-1zM263 168h2v1h-2zM227 168h3v4h-3zM263 169h3v3h-3zM263 172h4v1h-4zM226 172h3v3h-3zM264 173h3v2h-3zM264 175h4v1h-4zM225 175h3v3h-3zM265 176h3v2h-3zM266 178h3v3h-3zM224 178h3v3h-3zM223 181h3v3h-3zM267 181h3v3h-3zM268 184h3v2h-3zM222 184h3v3h-3zM269 186h3v3h-3zM221 187h3v2h-3zM220 189h4v1h-4zM270 189h2v2h-2zM220 190h3v2h-3zM271 191h2v3h-2zM219 192h3v2h-3zM218 194h4v1h-4zM272 194h1v2h-1zM218 195h3v2h-3zM276 197h1v2h-1zM217 197h3v2h-3zM277 199h1v2h-1zM216 199h3v2h-3zM277 201h2v2h-2zM215 201h3v2h-3zM277 203h3v1h-3zM214 203h3v2h-3zM277 204h4v1h-4zM278 205h3v1h-3zM213 205h3v2h-3zM279 206h3v1h-3zM212 207h3v1h-3zM279 207h4v1h-4zM280 208h4v1h-4zM211 208h4v1h-4zM211 209h3v1h-3zM281 209h4v1h-4zM210 210h3v1h-3zM282 210h3v1h-3zM282 211h4v1h-4zM209 211h4v1h-4zM283 212h4v1h-4zM209 212h3v1h-3zM208 213h3v1h-3zM284 213h4v1h-4zM285 214h4v1h-4zM207 214h4v1h-4zM286 215h4v1h-4zM206 215h4v1h-4zM287 216h4v1h-4zM206 216h3v1h-3zM205 217h3v1h-3zM288 217h4v1h-4zM289 218h5v1h-5zM204 218h4v1h-4zM290 219h5v1h-5zM203 219h4v1h-4zM292 220h5v1h-5zM202 220h4v1h-4zM201 221h4v1h-4zM293 221h5v1h-5zM295 222h5v1h-5zM200 222h4v1h-4zM199 223h4v1h-4zM296 223h6v1h-6zM298 224h6v1h-6zM198 224h4v1h-4zM196 225h5v1h-5zM300 225h7v1h-7zM302 226h8v1h-8zM195 226h5v1h-5zM194 227h4v1h-4zM304 227h9v1h-9zM307 228h5v1h-5zM192 228h5v1h-5zM310 229h1v1h-1zM190 229h6v1h-6zM319 229h3v1h-3zM318 230h10v1h-10zM189 230h5v1h-5zM187 231h6v1h-6zM317 231h21v1h-21zM354 232h3v1h-3zM348 232h5v1h-5zM185 232h6v1h-6zM322 232h18v1h-18zM351 233h25v1h-25zM377 233h1v1h-1zM328 233h10v1h-10zM183 233h6v1h-6zM356 234h22v1h-22zM342 234h3v1h-3zM180 234h7v1h-7zM178 235h7v1h-7zM175 236h8v1h-8zM172 237h9v1h-9zM169 238h9v1h-9zM165 239h10v1h-10zM161 240h11v1h-11zM156 241h13v1h-13zM151 242h14v1h-14zM146 243h15v1h-15zM139 244h17v1h-17zM132 245h19v1h-19zM124 246h22v1h-22zM115 247h24v1h-24zM106 248h26v1h-26zM96 249h28v1h-28zM85 250h31v1h-31zM71 251h32v1h-32zM58 252h28v1h-28zM50 253h19v1h-19zM50 254h1v1h-1z"/>
<path fill="#ffff00" d="M266 113h2v1h-2zM265 114h4v3h-4zM264 117h5v1h-5zM264 118h6v7h-6zM263 125h7v1h-7zM267 126h3v2h-3zM267 128h4v2h-4zM263 126h3v13h-3zM262 139h4v1h-4zM268 130h3v11h-3zM268 141h4v2h-4zM262 140h3v13h-3zM269 143h3v12h-3zM261 153h4v2h-4zM269 155h4v1h-4zM261 155h3v11h-3zM260 166h4v2h-4zM270 156h3v13h-3zM270 169h4v1h-4zM260 168h3v11h-3zM271 170h3v11h-3zM271 181h4v1h-4zM259 179h3v11h-3zM272 182h3v8h-3zM272 190h4v1h-4zM258 190h3v8h-3zM273 191h3v8h-3zM257 198h3v7h-3zM274 199h3v6h-3zM256 205h3v5h-3zM275 205h3v6h-3zM255 210h4v1h-4zM276 211h3v4h-3zM255 211h3v5h-3zM277 215h3v3h-3zM254 216h3v3h-3zM277 218h4v1h-4zM253 219h4v1h-4zM278 219h3v3h-3zM253 220h3v2h-3zM252 222h4v1h-4zM279 222h3v2h-3zM252 223h3v2h-3zM280 224h3v2h-3zM251 225h3v2h-3zM281 226h3v2h-3zM250 227h4v1h-4zM282 228h3v1h-3zM250 228h3v2h-3zM282 229h4v1h-4zM283 230h4v1h-4zM249 230h3v1h-3zM284 231h4v1h-4zM248 231h3v1h-3zM285 232h4v1h-4zM247 232h4v1h-4zM286 233h4v1h-4zM246 233h4v1h-4zM245 234h4v1h-4zM287 234h5v1h-5zM288 235h7v1h-7zM244 235h4v1h-4zM243 236h4v1h-4zM290 236h9v1h-9zM306 237h1v1h-1zM241 237h5v1h-5zM292 237h3v1h-3zM339 237h17v1h-17zM239 238h6v1h-6zM304 238h9v1h-9zM377 238h1v1h-1zM332 238h13v1h-13zM237 239h6v1h-6zM364 239h1v1h-1zM302 239h1v1h-1zM233 240h9v1h-9zM229 241h10v1h-10zM224 242h13v1h-13zM217 243h17v1h-17zM208 244h13v1h-13zM206 245h1v1h-1zM197 245h8v1h-8zM184 246h5v1h-5zM169 247h3v1h-3zM153 248h1v1h-1zM137 249h1v1h-1zM122 250h1v1h-1zM120 250h1v1h-1zM103 251h1v1h-1z"/>
<path fill="#ff007f" d="M326 177h2v1h-2zM325 178h4v1h-4zM324 179h5v2h-5zM324 181h6v1h-6zM323 182h7v1h-7zM323 183h3v3h-3zM327 183h3v3h-3zM322 186h4v1h-4zM328 186h2v3h-2zM328 189h1v2h-1zM322 187h3v6h-3zM331 195h1v2h-1zM321 193h3v5h-3zM320 198h4v1h-4zM331 197h2v4h-2zM330 201h3v2h-3zM320 199h3v5h-3zM330 203h4v1h-4zM319 204h4v1h-4zM331 204h3v4h-3zM331 208h4v1h-4zM319 205h3v5h-3zM332 209h3v3h-3zM332 212h4v1h-4zM318 210h3v4h-3zM333 213h3v3h-3zM317 214h3v3h-3zM333 216h4v1h-4zM316 217h4v1h-4zM334 217h3v2h-3zM334 219h4v1h-4zM316 218h3v3h-3zM335 220h3v2h-3zM315 221h3v3h-3zM336 222h3v2h-3zM336 224h4v1h-4zM314 224h3v2h-3zM337 225h3v1h-3zM337 226h4v1h-4zM313 226h3v2h-3zM338 227h3v1h-3zM339 228h3v1h-3zM312 228h3v1h-3zM311 229h4v1h-4zM339 229h4v1h-4zM340 230h3v1h-3zM310 230h3v1h-3zM309 231h3v1h-3zM341 231h1v1h-1zM345 232h3v1h-3zM309 232h1v1h-1zM307 233h1v1h-1zM344 233h7v1h-7zM345 234h11v1h-11zM348 235h29v1h-29zM351 236h27v1h-27zM356 237h7v1h-7zM303 238h1v1h-1zM299 239h3v1h-3z"/>
<path fill="#0000ff" d="M340 73h2v1h-2zM339 74h4v3h-4zM339 77h5v1h-5zM338 78h6v8h-6zM338 86h3v1h-3zM337 87h4v2h-4zM342 86h3v14h-3zM337 89h3v12h-3zM336 101h4v1h-4zM343 100h3v15h-3zM336 102h3v14h-3zM343 115h4v2h-4zM335 116h4v2h-4zM344 117h3v13h-3zM344 130h4v2h-4zM335 118h3v15h-3zM334 133h4v1h-4zM345 132h3v13h-3zM345 145h4v1h-4zM334 134h3v13h-3zM333 147h4v2h-4zM346 146h3v12h-3zM346 158h4v1h-4zM333 149h3v11h-3zM332 160h4v1h-4zM347 159h3v11h-3zM332 161h3v10h-3zM347 170h4v1h-4zM348 171h3v8h-3zM331 171h3v10h-3zM330 181h4v1h-4zM349 179h3v8h-3zM330 182h3v7h-3zM350 187h3v6h-3zM350 193h4v1h-4zM329 189h3v6h-3zM351 194h3v5h-3zM328 195h3v6h-3zM352 199h3v5h-3zM327 201h3v4h-3zM353 204h2v1h-2zM326 205h4v1h-4zM353 205h1v3h-1zM326 206h3v3h-3zM325 209h4v1h-4zM356 210h1v1h-1zM325 210h3v2h-3zM324 212h4v1h-4zM356 211h2v3h-2zM324 213h3v3h-3zM356 214h3v2h-3zM323 216h3v2h-3zM357 216h3v3h-3zM322 218h4v1h-4zM322 219h3v1h-3zM358 219h3v1h-3zM359 220h3v1h-3zM321 220h4v1h-4zM321 221h3v1h-3zM359 221h4v1h-4zM320 222h4v1h-4zM360 222h3v1h-3zM320 223h3v1h-3zM360 223h4v1h-4zM361 224h4v1h-4zM319 224h3v1h-3zM318 225h4v1h-4zM362 225h4v1h-4zM317 226h4v1h-4zM363 226h4v1h-4zM364 227h5v1h-5zM317 227h3v1h-3zM365 228h6v1h-6zM315 228h5v1h-5zM367 229h6v1h-6zM315 229h4v1h-4zM369 230h7v1h-7zM313 230h5v1h-5zM312 231h5v1h-5zM370 231h8v1h-8zM373 232h5v1h-5zM310 232h5v1h-5zM308 233h6v1h-6zM376 233h1v1h-1zM306 234h6v1h-6zM303 235h8v1h-8zM299 236h9v1h-9zM295 237h11v1h-11zM289 238h14v1h-14zM282 239h17v1h-17zM274 240h16v1h-16zM262 241h14v1h-14zM250 242h10v1h-10zM236 243h8v1h-8zM228 244h1v1h-1zM221 244h6v1h-6zM205 245h1v1h-1zM207 245h3v1h-3zM189 246h4v1h-4zM172 247h3v1h-3zM155 248h3v1h-3zM138 249h2v1h-2zM121 250h1v1h-1zM124 250h1v1h-1zM104 251h1v1h-1zM86 252h2v1h-2zM69 253h1v1h-1zM51 254h1v1h-1z"/>
<path fill="#9600ff" d="M362 163h2v1h-2zM361 164h4v1h-4zM361 165h5v2h-5zM360 167h6v1h-6zM360 168h7v1h-7zM360 169h3v3h-3zM364 169h3v5h-3zM359 172h3v7h-3zM365 174h3v6h-3zM365 180h4v1h-4zM358 179h3v7h-3zM357 186h4v1h-4zM366 181h3v7h-3zM357 187h3v6h-3zM367 188h3v6h-3zM367 194h4v1h-4zM356 193h3v6h-3zM368 195h3v5h-3zM355 199h3v6h-3zM369 200h3v5h-3zM354 205h3v4h-3zM370 205h3v5h-3zM353 209h4v1h-4zM353 210h3v3h-3zM371 210h3v3h-3zM371 213h4v1h-4zM352 213h4v1h-4zM372 214h3v2h-3zM352 214h3v3h-3zM372 216h4v1h-4zM373 217h3v2h-3zM351 217h3v3h-3zM374 219h3v2h-3zM350 220h3v2h-3zM374 221h4v1h-4zM375 222h3v1h-3zM349 222h3v2h-3zM375 223h4v1h-4zM376 224h1v1h-1zM348 224h3v2h-3zM347 226h3v1h-3zM346 227h4v1h-4zM345 228h4v1h-4zM344 229h4v1h-4zM343 230h4v1h-4zM342 231h4v1h-4zM340 232h5v1h-5zM338 233h6v1h-6zM335 234h7v1h-7zM332 235h9v1h-9zM328 236h10v1h-10zM322 237h14v1h-14zM313 238h19v1h-19zM303 239h24v1h-24zM290 240h20v1h-20zM276 241h16v1h-16zM260 242h14v1h-14zM244 243h13v1h-13zM229 244h10v1h-10zM276 244h1v1h-1zM227 244h1v1h-1zM258 245h3v1h-3zM210 245h11v1h-11zM240 246h5v1h-5zM193 246h10v1h-10zM223 247h5v1h-5zM175 247h11v1h-11zM205 248h6v1h-6zM158 248h10v1h-10zM140 249h10v1h-10zM187 249h7v1h-7zM123 250h1v1h-1zM169 250h8v1h-8zM125 250h8v1h-8zM105 251h10v1h-10zM152 251h7v1h-7zM88 252h9v1h-9zM134 252h8v1h-8zM116 253h8v1h-8zM70 253h10v1h-10zM99 254h8v1h-8zM52 254h10v1h-10zM81 255h8v1h-8zM63 256h8v1h-8zM51 257h3v1h-3z"/>
<path fill="#000000" d="M363 237h15v1h-15zM345 238h32v1h-32zM327 239h37v1h-37zM310 240h36v1h-36zM292 241h37v1h-37zM274 242h37v1h-37zM257 243h36v1h-36zM239 244h37v1h-37zM221 245h37v1h-37zM203 246h37v1h-37zM186 247h37v1h-37zM168 248h37v1h-37zM150 249h37v1h-37zM133 250h36v1h-36zM115 251h37v1h-37zM97 252h37v1h-37zM80 253h36v1h-36zM62 254h37v1h-37zM50 255h31v1h-31zM50 256h13v1h-13z"/>
<path fill="#000" d="M32 8h358v1h-358zM32 9h1v32h-1zM27 41h6v1h-6zM32 42h1v54h-1zM30 96h3v1h-3zM32 97h1v54h-1zM27 151h6v1h-6zM32 152h1v53h-1zM30 205h3v1h-3zM32 206h1v54h-1zM27 260h6v1h-6zM389 9h1v262h-1zM32 261h1v10h-1zM32 271h358v1h-358zM286 272h1v2h-1zM119 272h1v2h-1zM328 272h1v2h-1zM244 272h1v2h-1zM369 272h1v2h-1zM203 272h1v2h-1zM78 272h1v2h-1zM36 272h1v2h-1zM161 272h1v2h-1zM223 272h1v5h-1zM57 272h1v5h-1zM182 272h1v5h-1zM307 272h1v5h-1zM140 272h1v5h-1zM265 272h1v5h-1zM348 272h1v5h-1zM98 272h1v5h-1z"/>
</g>

<defs><filter id="soft" x="-5%" y="-5%" width="110%" height="110%"><feGaussianBlur stdDeviation="1.6"/></filter></defs>
<g font-family="'Liberation Sans', sans-serif" fill="#1a1a1a" filter="url(#soft)">
<text x="272.6" y="209.8" font-size="106">4%CS</text>
<text transform="translate(2265.5,224) scale(1.085,1)" font-size="127.5" letter-spacing="5.5">b)</text>
<g font-size="89.5" text-anchor="end">
<text x="428" y="1816.8">950</text>
<text x="708.5" y="1816.8">1000</text>
<text x="970" y="1816.8">1050</text>
<text x="1233" y="1816.8">1100</text>
<text x="1490" y="1816.8">1150</text>
<text x="1752" y="1816.8">1200</text>
<text x="2013" y="1816.8">1250</text>
<text x="2271" y="1816.8">1300</text>
</g>
<text x="973.5" y="1955" font-size="98"><tspan letter-spacing="-0.5">Wavenumber</tspan> (cm<tspan font-size="60" dy="-44.8">-1</tspan><tspan dy="44.8" dx="5">)</tspan></text>
<text transform="translate(106,1265.5) rotate(-90)" font-size="96.4">Absorbance (arb.units)</text>
</g>

</svg>
</body></html>
